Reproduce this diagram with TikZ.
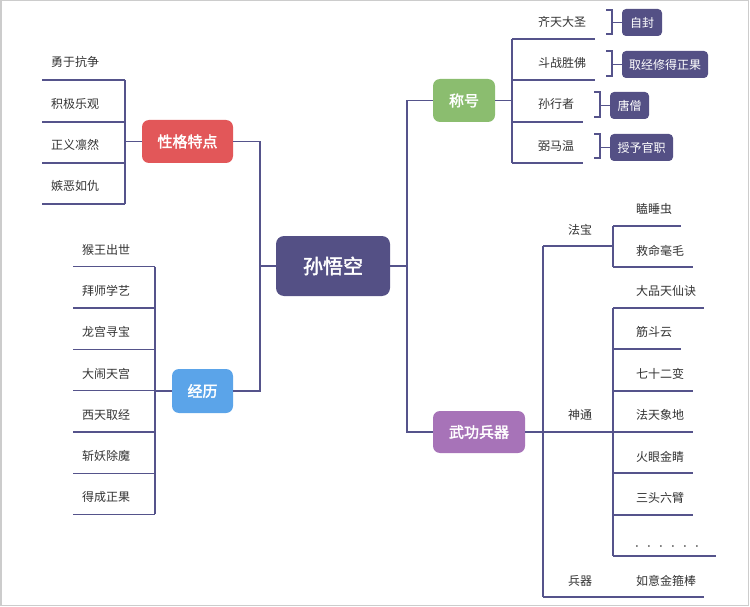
\documentclass[tikz,border=0pt]{standalone}
\usepackage{fontspec}
\setmainfont{Noto Sans CJK SC}[AutoFakeBold=2.2]
\definecolor{lc}{HTML}{55538B}
\definecolor{dk}{HTML}{545085}
\definecolor{redc}{HTML}{E25759}
\definecolor{bluec}{HTML}{5BA4E9}
\definecolor{greenc}{HTML}{8BBD6F}
\definecolor{purc}{HTML}{A773B8}
\definecolor{txt}{HTML}{333333}
\definecolor{frame}{HTML}{CCCCCC}
\begin{document}
\begin{tikzpicture}[x=1pt,y=-1pt,
  conn/.style={draw=lc,line width=1.4pt},
  leaf/.style={inner sep=0pt,anchor=west,text=txt,font=\fontsize{12}{14}\selectfont},
  topic/.style={rounded corners=7pt,inner sep=0pt,text=white,font=\fontsize{15}{18}\selectfont\bfseries},
  callout/.style={fill=dk,rounded corners=4pt,inner sep=0pt,minimum height=27pt,text=white,font=\fontsize{12}{14}\selectfont}]
\useasboundingbox (0,0) rectangle (750,607);
\draw[frame,line width=1.5pt] (0.75,0.75) rectangle (748.5,605.5);

% central
\node[topic,fill=dk,minimum width=114pt,minimum height=60pt,rounded corners=8pt,font=\fontsize{20}{24}\selectfont\bfseries] (c) at (333,266) {孙悟空};

% ---------- 性格特点 ----------
\node[topic,fill=redc,minimum width=91pt,minimum height=43pt] (t1) at (187.5,141.5) {性格特点};
\coordinate (j1) at (125,141.5);
\coordinate (v1a) at (125,80); \coordinate (v1b) at (125,204);
\draw[conn] (t1.west) -- (j1);
\draw[conn] (v1a) -- (v1b);
\foreach \y/\t [count=\i] in {80/勇于抗争,122/积极乐观,163/正义凛然,204/嫉恶如仇}{
  \coordinate (a\i) at (42,\y);
  \draw[conn] (a\i) -- (125,\y);
  \node[leaf] (la\i) at (51,\y-18) {\t};
}

% ---------- 经历 ----------
\node[topic,fill=bluec,minimum width=61pt,minimum height=44pt] (t2) at (202.5,391) {经历};
\coordinate (j2) at (155,391);
\draw[conn] (t2.west) -- (j2);
\draw[conn] (155,266.7) -- (155,514);
\foreach \y/\t [count=\i] in {266.7/猴王出世,308/拜师学艺,349.3/龙宫寻宝,390.7/大闹天宫,432/西天取经,473.3/斩妖除魔,514.3/得成正果}{
  \coordinate (b\i) at (73,\y);
  \draw[conn] (b\i) -- (155,\y);
  \node[leaf] (lb\i) at (82,\y-17) {\t};
}

% left trunk
\coordinate (lt) at (260,266);
\draw[conn] (t1.east) -| (lt) |- (t2.east);
\draw[conn] (c.west) -- (lt);

% ---------- right trunk ----------
\node[topic,fill=greenc,minimum width=62pt,minimum height=43pt] (t3) at (464,100.5) {称号};
\node[topic,fill=purc,minimum width=92pt,minimum height=42pt] (t4) at (479,432) {武功兵器};
\coordinate (rt) at (407,266);
\draw[conn] (c.east) -- (rt);
\draw[conn] (t3.west) -| (rt) |- (t4.west);

% ---------- 称号 ----------
\coordinate (j3) at (512,100.5);
\draw[conn] (t3.east) -- (j3);
\draw[conn] (512,39) -- (512,163);
\draw[conn] (512,39) -- (595,39);
\draw[conn] (512,80) -- (595,80);
\draw[conn] (512,122) -- (583,122);
\draw[conn] (512,163) -- (583,163);
\node[leaf] (n1) at (538,22) {齐天大圣};
\node[leaf] (n2) at (538,63) {斗战胜佛};
\node[leaf] (n3) at (538,104) {孙行者};
\node[leaf] (n4) at (538,146) {弼马温};

\node[callout,minimum width=40pt] (k1) at (642,22.5) {自封};
\node[callout,minimum width=86pt] (k2) at (665,64.5) {取经修得正果};
\node[callout,minimum width=39pt] (k3) at (629.5,105.5) {唐僧};
\node[callout,minimum width=63pt] (k4) at (641.5,147.5) {授予官职};
\draw[conn,line width=1.2pt] (606,10) -- (612,10) -- (612,34) -- (606,34);
\draw[conn,line width=1.2pt] (612,22.5) -- (k1.west);
\draw[conn,line width=1.2pt] (606,51) -- (612,51) -- (612,76) -- (606,76);
\draw[conn,line width=1.2pt] (612,64.5) -- (k2.west);
\draw[conn,line width=1.2pt] (594,92) -- (600,92) -- (600,117) -- (594,117);
\draw[conn,line width=1.2pt] (600,105.5) -- (k3.west);
\draw[conn,line width=1.2pt] (594,134) -- (600,134) -- (600,158) -- (594,158);
\draw[conn,line width=1.2pt] (600,147.5) -- (k4.west);

% ---------- 武功兵器 ----------
\coordinate (j4) at (543,432);
\draw[conn] (t4.east) -- (j4);
\draw[conn] (543,246) -- (543,597);
% 法宝
\draw[conn] (543,246) -- (613,246);
\node[leaf,anchor=center] (fb) at (580,230) {法宝};
\draw[conn] (613,226) -- (613,267);
\draw[conn] (613,226) -- (681,226);
\draw[conn] (613,267) -- (693,267);
\node[leaf] (f1) at (636,209) {瞌睡虫};
\node[leaf] (f2) at (636,251) {救命毫毛};
% 神通
\draw[conn] (j4) -- (613,432);
\node[leaf,anchor=center] (st) at (580,415) {神通};
\draw[conn] (613,308) -- (613,556);
\foreach \y/\xr in {308/704,349/681,391/693,432/693,473/693,515/693,556/716}{
  \draw[conn] (613,\y) -- (\xr,\y);
}
\node[leaf] (s1) at (636,291) {大品天仙诀};
\node[leaf] (s2) at (636,332) {筋斗云};
\node[leaf] (s3) at (636,374) {七十二变};
\node[leaf] (s4) at (636,415) {法天象地};
\node[leaf] (s5) at (636,457) {火眼金睛};
\node[leaf] (s6) at (636,498) {三头六臂};
\node[leaf,text=black!65,anchor=base west] (s7) at (634,547) {．．．．．．};
% 兵器
\draw[conn] (543,597) -- (704,597);
\node[leaf,anchor=center] (bq) at (580,581) {兵器};
\node[leaf] (w1) at (636,581) {如意金箍棒};
\end{tikzpicture}
\end{document}
